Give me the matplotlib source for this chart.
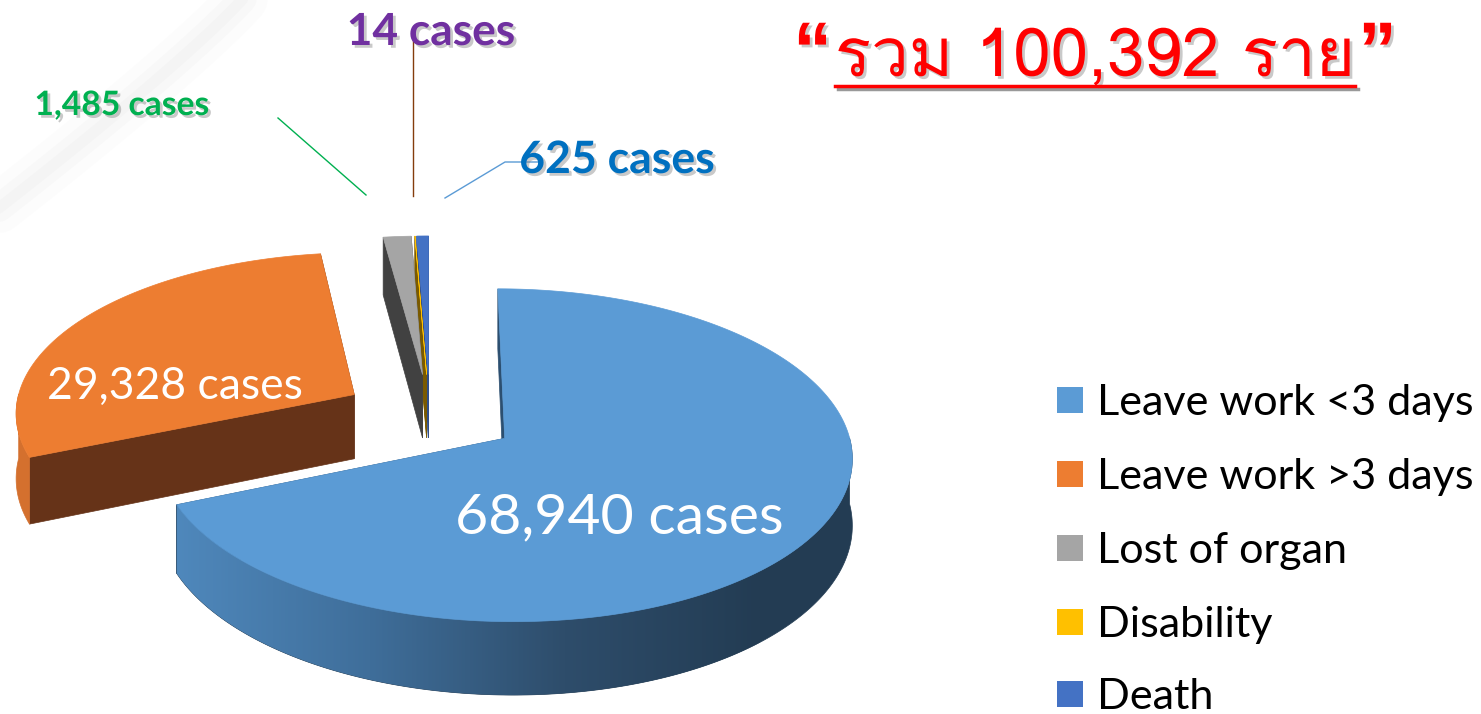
import numpy as np
import matplotlib
matplotlib.use('Agg')
import matplotlib.pyplot as plt
from matplotlib.patches import Polygon, Rectangle
from matplotlib import font_manager
from matplotlib.ft2font import FT2Font
import matplotlib.patheffects as pe
from matplotlib.colors import LinearSegmentedColormap

# ---------------- data ----------------
categories = ['Leave work <3 days', 'Leave work >3 days', 'Lost of organ', 'Disability', 'Death']
cases = [68940, 29328, 1485, 14, 625]
value_labels = ['68,940 cases', '29,328 cases', '1,485 cases', '14 cases', '625 cases']
title_text = 'รวม 100,392 ราย'

# ---------------- style ----------------
top_colors = ['#5B9BD5', '#ED7D31', '#A5A5A5', '#FFC000', '#4472C4']
wall_colors = ['#4A80B3', '#D4702E', '#6E6E6E', '#9C7600', '#2F5597']
face_colors = ['#2C4F70', '#663318', '#414141', '#7A5A00', '#2F4E8A']

W, H = 1481, 714
fig = plt.figure(figsize=(W / 100, H / 100), dpi=100)
ax = fig.add_axes([0, 0, 1, 1])


def find_font(ch):
    for f in font_manager.fontManager.ttflist:
        try:
            if ord(ch) in FT2Font(f.fname).get_charmap():
                return f.name
        except Exception:
            pass
    return 'DejaVu Sans'


thai_font = find_font('ร')
base_font = 'Lato'

# faint decorative streak in the background (top-left)
for lw, a in [(36, 0.025), (20, 0.035), (8, 0.04)]:
    tt = np.linspace(0, 1, 50)
    xs = 250 - 260 * tt
    ys = -10 + 225 * tt ** 0.9
    ax.plot(xs, ys, color='#9a9a9a', lw=lw, alpha=a, solid_capstyle='round', zorder=0)

# ---------------- 3D pie projection ----------------
CX, CY = 430, 415
SX, SY = 340, 160
K = 0.10
T = 65
EXPLODE = 0.26


def proj(xd, yd, z):
    q = 1.0 / (1.0 + K * yd)
    return CX + SX * xd * q, CY - SY * yd * q + T * z * q


total = float(sum(cases))
slices = []
start = 90.0
for i, v in enumerate(cases):
    sweep = v / total * 360.0
    a0, a1 = start - sweep, start  # slice covers [a0, a1]
    mid = np.radians((a0 + a1) / 2)
    ox, oy = EXPLODE * np.cos(mid), EXPLODE * np.sin(mid)
    slices.append(dict(i=i, a0=a0, a1=a1, ox=ox, oy=oy))
    start -= sweep

blue_grad = LinearSegmentedColormap.from_list('bw', ['#4F88BC', '#3F6E9A', '#2E4D6B', '#233C53'])

order = sorted(slices, key=lambda s: -s['oy'])
z = 1
for s in order:
    i, a0, a1, ox, oy = s['i'], s['a0'], s['a1'], s['ox'], s['oy']
    angs = np.radians(np.linspace(a0, a1, max(3, int((a1 - a0) * 2) + 2)))
    # radial faces
    for ang in (np.radians(a0), np.radians(a1)):
        ex, ey = ox + np.cos(ang), oy + np.sin(ang)
        pts = [proj(ox, oy, 0), proj(ex, ey, 0), proj(ex, ey, 1), proj(ox, oy, 1)]
        ax.add_patch(Polygon(pts, closed=True, fc=face_colors[i], ec=face_colors[i], lw=0.5, zorder=z))
    z += 1
    # outer wall (front-facing part)
    front = angs[np.sin(angs) < 0.01]
    if len(front) > 1:
        top = [proj(ox + np.cos(a), oy + np.sin(a), 0) for a in front]
        bot = [proj(ox + np.cos(a), oy + np.sin(a), 1) for a in front[::-1]]
        if i == 0:
            base_wall = Polygon(top + bot, closed=True, fc='#233C53', ec='#233C53', lw=0.5, zorder=z)
            ax.add_patch(base_wall)
            clip_wall = Polygon(top + bot, closed=True, fc='none', ec='none', zorder=z + 0.5)
            ax.add_patch(clip_wall)
            grad = np.linspace(0, 1, 256)[None, :].repeat(2, axis=0)
            im = ax.imshow(grad, cmap=blue_grad, vmin=0, vmax=1,
                           extent=[175, 760, 714, 400], aspect='auto', zorder=z + 0.5,
                           interpolation='bilinear')
            im.set_clip_path(clip_wall)
        else:
            ax.add_patch(Polygon(top + bot, closed=True, fc=wall_colors[i], ec=wall_colors[i],
                                 lw=0.5, zorder=z))
    z += 1
    # top face
    pts = [proj(ox, oy, 0)] + [proj(ox + np.cos(a), oy + np.sin(a), 0) for a in angs]
    ax.add_patch(Polygon(pts, closed=True, fc=top_colors[i], ec=top_colors[i], lw=0.5, zorder=z))
    z += 1

ax.set_xlim(0, W)
ax.set_ylim(H, 0)
ax.axis('off')

fig.canvas.draw()
R = fig.canvas.get_renderer()


def fit(t, target_w):
    bb = t.get_window_extent(R)
    t.set_fontsize(t.get_fontsize() * target_w / bb.width)


shadow = [pe.SimplePatchShadow(offset=(2, -2), shadow_rgbFace='#888888', alpha=0.45), pe.Normal()]

# ---------------- data labels ----------------
t = ax.text(619, 533, value_labels[0], color='white', fontsize=40, family=base_font,
            ha='center', va='baseline', zorder=50)
fit(t, 328)
t = ax.text(175, 399, value_labels[1], color='white', fontsize=32, family=base_font,
            ha='center', va='baseline', zorder=50)
fit(t, 256)
t = ax.text(122, 115, value_labels[2], color='#00B050', fontsize=20, family=base_font,
            fontweight='bold', ha='center', va='baseline', zorder=50, path_effects=shadow)
fit(t, 175)
t = ax.text(431, 45, value_labels[3], color='#7030A0', fontsize=24, family=base_font,
            fontweight='bold', ha='center', va='baseline', zorder=50, path_effects=shadow)
fit(t, 169)
t = ax.text(617, 173, value_labels[4], color='#0070C0', fontsize=24, family=base_font,
            fontweight='bold', ha='center', va='baseline', zorder=50, path_effects=shadow)
fit(t, 196)

# leader lines
ax.plot([278, 366], [118, 195], color='#00B050', lw=1.0, zorder=40)
ax.plot([413, 413], [32, 196], color='#843C0C', lw=1.0, zorder=40)
ax.plot([445, 505, 540], [198, 162, 162], color='#5B9BD5', lw=1.0, zorder=40)

# ---------------- title ----------------
tt = ax.text(1095, 76, title_text, color='#FF0000', fontsize=40, family=[thai_font, 'DejaVu Sans'],
             ha='center', va='baseline', zorder=50, path_effects=shadow)
fit(tt, 520)
fig.canvas.draw()
bb = tt.get_window_extent(R)
x0, x1 = 1095 - bb.width / 2, 1095 + bb.width / 2
ax.plot([x0, x1], [86, 86], color='#FF0000', lw=2.5, zorder=50,
        path_effects=[pe.SimpleLineShadow(offset=(2, -2), alpha=0.4), pe.Normal()])
ax.text(x0 - 3, 76, '\u201c', color='#FF0000', fontsize=tt.get_fontsize() * 1.15,
        family='Liberation Sans', fontweight='bold',
        ha='right', va='baseline', zorder=50, path_effects=shadow)
ax.text(x1 + 3, 76, '\u201d', color='#FF0000', fontsize=tt.get_fontsize() * 1.15,
        family='Liberation Sans', fontweight='bold',
        ha='left', va='baseline', zorder=50, path_effects=shadow)

# ---------------- legend ----------------
leg_y = [400, 474, 548, 622, 694]
fs = None
for k, (name, col, y) in enumerate(zip(categories, top_colors, leg_y)):
    ax.add_patch(Rectangle((1057, y - 13), 26, 26, fc=col, ec='none', zorder=50))
    lt = ax.text(1097, y + 15, name, color='black', fontsize=fs or 34, family=base_font,
                 ha='left', va='baseline', zorder=50)
    if fs is None:
        fit(lt, 378)
        fs = lt.get_fontsize()

fig.savefig('out.png', dpi=100, facecolor='white')
